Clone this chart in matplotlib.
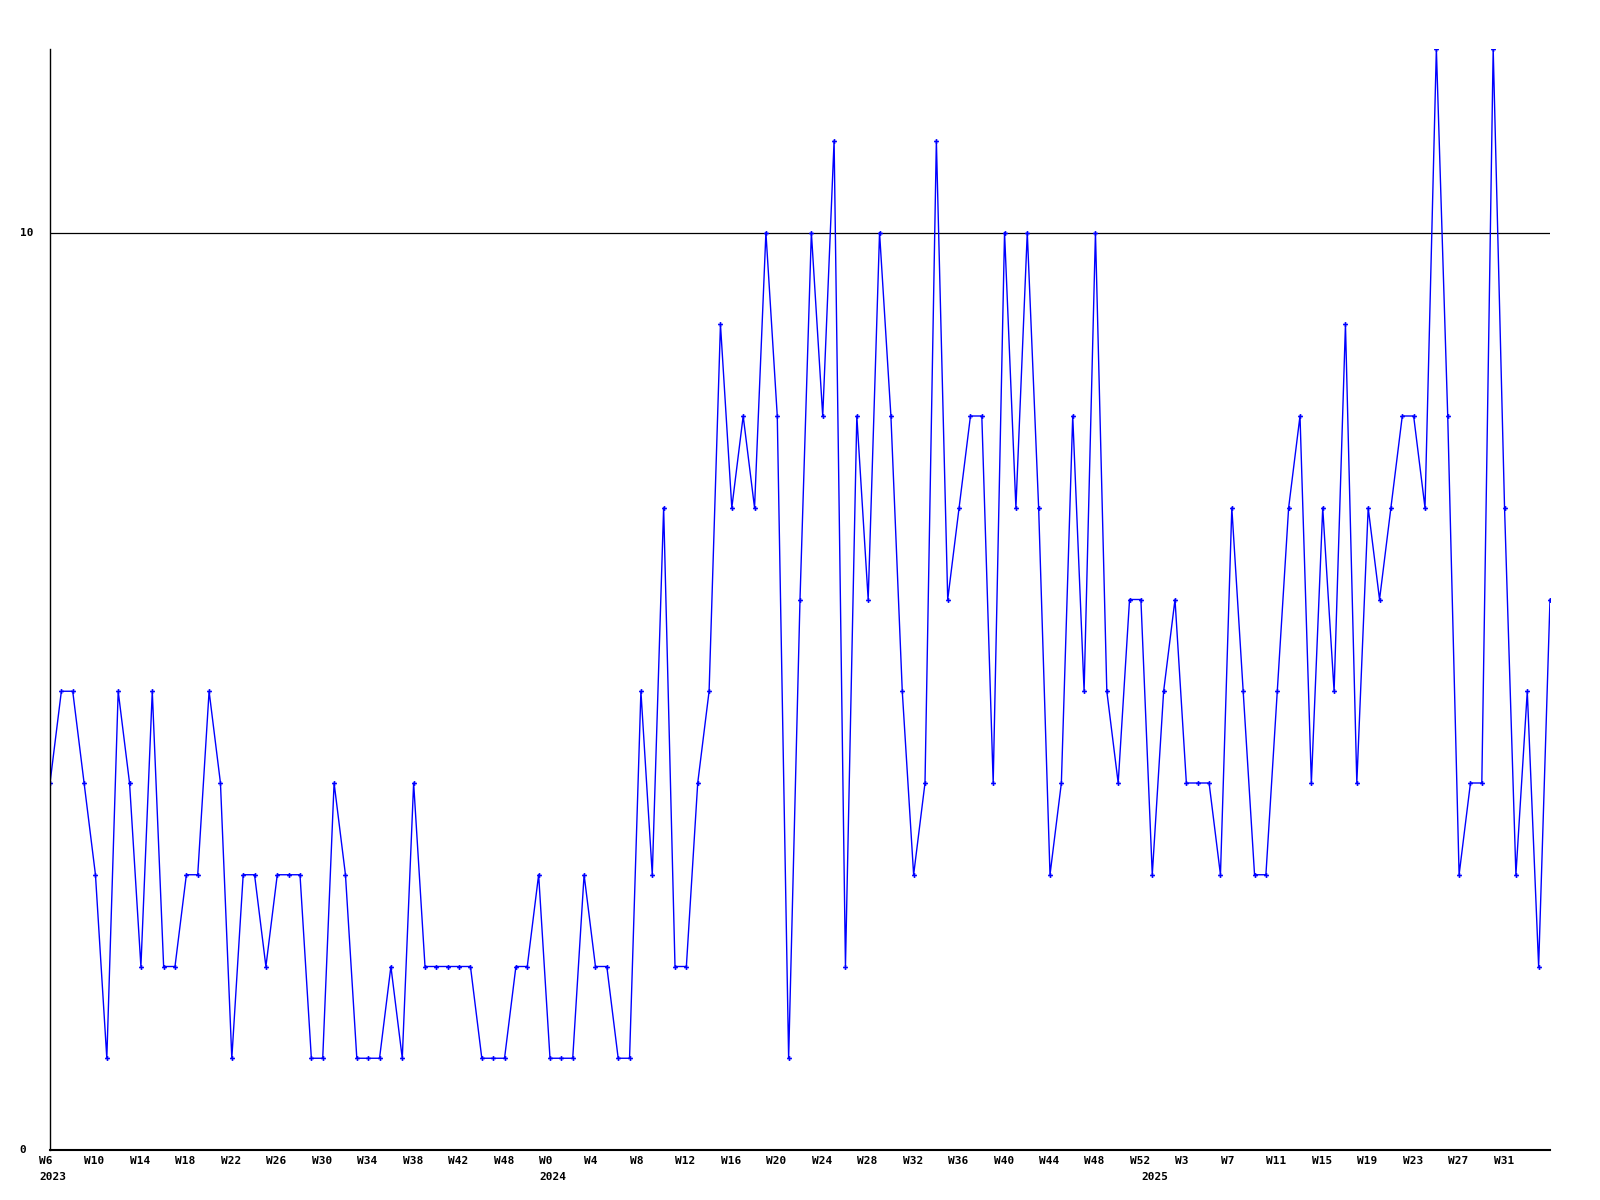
import matplotlib
matplotlib.use("Agg")
import matplotlib.pyplot as plt

# weekly counts, one value per week
values = [4, 5, 5, 4, 3, 1, 5, 4, 2, 5,
          2, 2, 3, 3, 5, 4, 1, 3, 3, 2,
          3, 3, 3, 1, 1, 4, 3, 1, 1, 1,
          2, 1, 4, 2, 2, 2, 2, 2, 1, 1,
          1, 2, 2, 3, 1, 1, 1, 3, 2, 2,
          1, 1, 5, 3, 7, 2, 2, 4, 5, 9,
          7, 8, 7, 10, 8, 1, 6, 10, 8, 11,
          2, 8, 6, 10, 8, 5, 3, 4, 11, 6,
          7, 8, 8, 4, 10, 7, 10, 7, 3, 4,
          8, 5, 10, 5, 4, 6, 6, 3, 5, 6,
          4, 4, 4, 3, 7, 5, 3, 3, 5, 7,
          8, 4, 7, 5, 9, 4, 7, 6, 7, 8,
          8, 7, 12, 8, 3, 4, 4, 12, 7, 3,
          5, 2, 6]

week_labels = ["W6", "W10", "W14", "W18", "W22", "W26", "W30", "W34", "W38",
               "W42", "W48", "W0", "W4", "W8", "W12", "W16", "W20", "W24",
               "W28", "W32", "W36", "W40", "W44", "W48", "W52", "W3", "W7",
               "W11", "W15", "W19", "W23", "W27", "W31"]
week_label_idx = list(range(0, 4 * len(week_labels), 4))

year_labels = ["2023", "2024", "2025"]
year_label_idx = [0, 44, 97]

y_labels = ["0", "10"]
y_label_vals = [0, 10]

x = list(range(len(values)))

fig = plt.figure(figsize=(16, 12), dpi=100)
ax = fig.add_axes([50 / 1600, 50 / 1200, 1500 / 1600, 1101 / 1200])

ax.plot(x, values, color="#0000ff", linewidth=1.0, marker="P",
        markersize=3.5, markeredgewidth=0)
ax.axhline(10, color="black", linewidth=0.9, zorder=1)

ax.set_xlim(0, len(values) - 1)
ax.set_ylim(0, 12)

for s in ["top", "right"]:
    ax.spines[s].set_visible(False)
ax.spines["left"].set_linewidth(1.0)
ax.spines["bottom"].set_linewidth(1.5)
ax.set_xticks([])
ax.set_yticks([])

font = dict(family="DejaVu Sans Mono", fontweight="bold", fontsize=8)

# labels sit left-aligned one week before their tick
xt = ax.get_xaxis_transform()
for lab, i in zip(week_labels, week_label_idx):
    ax.text(i - 0.97, -0.010, lab, transform=xt, ha="left", va="center", **font)
for lab, i in zip(year_labels, year_label_idx):
    ax.text(i - 0.97, -0.0245, lab, transform=xt, ha="left", va="center", **font)

yt = ax.get_yaxis_transform()
for lab, v in zip(y_labels, y_label_vals):
    ax.text(-0.0203, v, lab, transform=yt, ha="left", va="center", **font)

plt.savefig("out.png", dpi=100)
plt.close()
